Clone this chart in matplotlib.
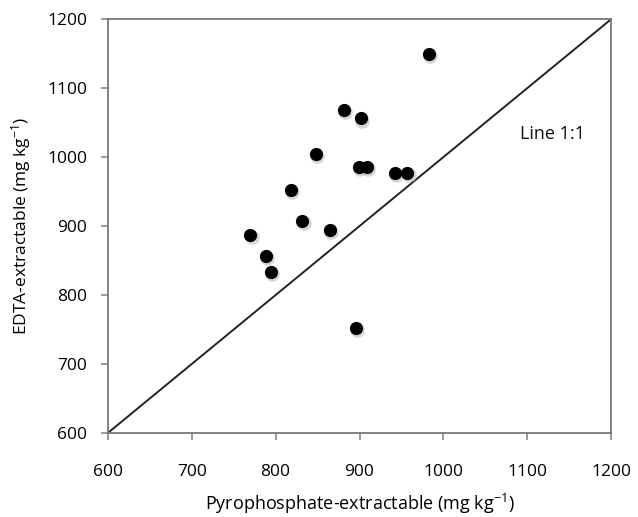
import matplotlib
matplotlib.use("Agg")
import matplotlib.pyplot as plt
import numpy as np

# values (mg kg-1)
pyrophosphate = [983, 881, 902, 848, 899, 909, 942, 957, 818, 832, 865, 770, 788, 794, 896]
edta = [1149, 1068, 1056, 1004, 986, 985, 977, 977, 952, 908, 894, 887, 856, 834, 752]
ticks = [600, 700, 800, 900, 1000, 1100, 1200]
line_label = "Line 1:1"

plt.rcParams["font.family"] = ["Open Sans", "DejaVu Sans"]
plt.rcParams["mathtext.default"] = "regular"

fig = plt.figure(figsize=(6.38, 5.17), dpi=100)
ax = fig.add_axes([0.169, 0.1625, 0.789, 0.8005])

# 1:1 line
ax.plot([ticks[0], ticks[-1]], [ticks[0], ticks[-1]], color="#222222", linewidth=1.4, zorder=2)

# soft shadow under markers, then the markers
x = np.array(pyrophosphate)
y = np.array(edta)
ax.plot(x + 1.5, y - 3, linestyle="none", marker="o", markersize=10.5,
        color="#bbbbbb", alpha=0.6, markeredgewidth=0, zorder=3)
ax.plot(x, y, linestyle="none", marker="o", markersize=9.5,
        color="black", markeredgewidth=0, zorder=4)

ax.text(1130, 1033, line_label, fontsize=13, ha="center", va="center", color="#111111")

ax.set_xlim(ticks[0], ticks[-1])
ax.set_ylim(ticks[0], ticks[-1])
ax.set_xticks(ticks)
ax.set_yticks(ticks)
ax.tick_params(axis="both", direction="out", length=5, width=1.2, color="#888888",
               labelsize=12.5)
ax.tick_params(axis="x", pad=17)
ax.tick_params(axis="y", pad=10)
for sp in ax.spines.values():
    sp.set_color("#777777")
    sp.set_linewidth(1.3)

ax.set_xlabel("Pyrophosphate-extractable (mg kg$^{-1}$)", fontsize=13, labelpad=9)
ax.set_ylabel("EDTA-extractable (mg kg$^{-1}$)", fontsize=12.5, labelpad=10)

fig.savefig("out.png", dpi=100)
